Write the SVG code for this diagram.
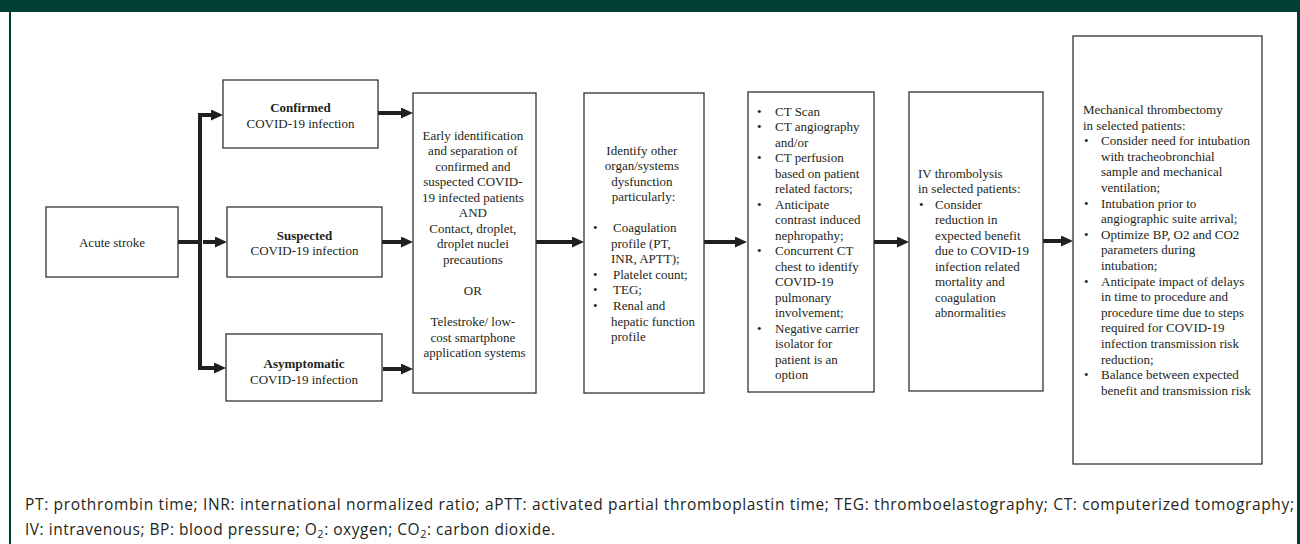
<svg xmlns="http://www.w3.org/2000/svg" width="1300" height="544" viewBox="0 0 1300 544">
<style>
.box{fill:#fff;stroke:#333;stroke-width:1.3}
.t{font-family:"Liberation Serif","Times New Roman",serif;font-size:13px;fill:#231f20}
.c{text-anchor:middle}
.b{font-weight:bold}
.ln{fill:none;stroke:#231f20;stroke-width:4}
.foot{font-family:"Open Sans",Lato,sans-serif;font-size:15.5px;fill:#231f20}
</style>
<defs>
<marker id="ah" markerUnits="userSpaceOnUse" markerWidth="12" markerHeight="11" viewBox="0 0 12 11" refX="6" refY="5.5" orient="auto">
<path d="M0,0 L12,5.5 L0,11 z" fill="#231f20"/>
</marker>
</defs>
<rect x="0" y="0" width="1300" height="12" fill="#003d35"/>
<rect x="9" y="0" width="2" height="544" fill="#003d35"/>
<rect x="1297" y="0" width="3" height="544" fill="#003d35"/>

<g id="connectors">
<path class="ln" d="M178,242 H202"/>
<path class="ln" d="M200,244 V115 H217" marker-end="url(#ah)"/>
<path class="ln" d="M200,240 V368 H220" marker-end="url(#ah)"/>
<path class="ln" d="M203,242 H221" marker-end="url(#ah)"/>
<path class="ln" d="M378,113 H407" marker-end="url(#ah)"/>
<path class="ln" d="M382,242 H407" marker-end="url(#ah)"/>
<path class="ln" d="M383,369 H407" marker-end="url(#ah)"/>
<path class="ln" d="M536,242 H578" marker-end="url(#ah)"/>
<path class="ln" d="M704,242 H741" marker-end="url(#ah)"/>
<path class="ln" d="M874,242 H903" marker-end="url(#ah)"/>
<path class="ln" d="M1043,241 H1067" marker-end="url(#ah)"/>
</g>

<g id="acute">
<rect class="box" x="46" y="207" width="132" height="70"/>
<text class="t c" x="112" y="246.5">Acute stroke</text>
</g>
<g id="confirmed">
<rect class="box" x="223" y="80" width="155" height="68"/>
<text class="t c b" x="300.5" y="112">Confirmed</text>
<text class="t c" x="300.5" y="127.5">COVID-19 infection</text>
</g>
<g id="suspected">
<rect class="box" x="227" y="207" width="155" height="70"/>
<text class="t c b" x="304.5" y="239.5">Suspected</text>
<text class="t c" x="304.5" y="255">COVID-19 infection</text>
</g>
<g id="asymptomatic">
<rect class="box" x="226" y="334" width="156" height="67"/>
<text class="t c b" x="304" y="367.5">Asymptomatic</text>
<text class="t c" x="304" y="383.5">COVID-19 infection</text>
</g>

<g id="early">
<rect class="box" x="413" y="93" width="123" height="300"/>
<text class="t c">
<tspan x="474.5" y="139.5">Early identification</tspan>
<tspan x="474.5" y="155">and separation of</tspan>
<tspan x="474.5" y="170.6">confirmed and</tspan>
<tspan x="474.5" y="186.1">suspected COVID-</tspan>
<tspan x="474.5" y="201.7">19 infected patients</tspan>
<tspan x="474.5" y="217.2">AND</tspan>
<tspan x="474.5" y="232.8">Contact, droplet,</tspan>
<tspan x="474.5" y="248.3">droplet nuclei</tspan>
<tspan x="474.5" y="263.9">precautions</tspan>
<tspan x="474.5" y="295">OR</tspan>
<tspan x="474.5" y="326.1">Telestroke/ low-</tspan>
<tspan x="474.5" y="341.6">cost smartphone</tspan>
<tspan x="474.5" y="357.2">application systems</tspan>
</text>
</g>

<g id="identify">
<rect class="box" x="584" y="93" width="120" height="300"/>
<text class="t c">
<tspan x="643.5" y="154.5">Identify other</tspan>
<tspan x="643.5" y="170">organ/systems</tspan>
<tspan x="643.5" y="185.6">dysfunction</tspan>
<tspan x="643.5" y="201.1">particularly:</tspan>
</text>
<text class="t">
<tspan x="593" y="232.2">•</tspan>
<tspan x="593" y="278.9">•</tspan>
<tspan x="593" y="294.4">•</tspan>
<tspan x="593" y="310">•</tspan>
</text>
<text class="t">
<tspan x="613" y="232.2">Coagulation</tspan>
<tspan x="611" y="247.8">profile (PT,</tspan>
<tspan x="611" y="263.3">INR, APTT);</tspan>
<tspan x="613" y="278.9">Platelet count;</tspan>
<tspan x="613" y="294.4">TEG;</tspan>
<tspan x="613" y="310">Renal and</tspan>
<tspan x="611" y="325.5">hepatic function</tspan>
<tspan x="611" y="341.1">profile</tspan>
</text>
</g>

<g id="ct">
<rect class="box" x="748" y="92" width="126" height="300"/>
<text class="t">
<tspan x="757" y="115.7">•</tspan>
<tspan x="757" y="131.2">•</tspan>
<tspan x="757" y="162.2">•</tspan>
<tspan x="757" y="208.7">•</tspan>
<tspan x="757" y="255.2">•</tspan>
<tspan x="757" y="332.7">•</tspan>
</text>
<text class="t">
<tspan x="775" y="115.7">CT Scan</tspan>
<tspan x="775" y="131.2">CT angiography</tspan>
<tspan x="775" y="146.7">and/or</tspan>
<tspan x="775" y="162.2">CT perfusion</tspan>
<tspan x="775" y="177.7">based on patient</tspan>
<tspan x="775" y="193.2">related factors;</tspan>
<tspan x="775" y="208.7">Anticipate</tspan>
<tspan x="775" y="224.2">contrast induced</tspan>
<tspan x="775" y="239.7">nephropathy;</tspan>
<tspan x="775" y="255.2">Concurrent CT</tspan>
<tspan x="775" y="270.7">chest to identify</tspan>
<tspan x="775" y="286.2">COVID-19</tspan>
<tspan x="775" y="301.7">pulmonary</tspan>
<tspan x="775" y="317.2">involvement;</tspan>
<tspan x="775" y="332.7">Negative carrier</tspan>
<tspan x="775" y="348.2">isolator for</tspan>
<tspan x="775" y="363.7">patient is an</tspan>
<tspan x="775" y="379.2">option</tspan>
</text>
</g>

<g id="iv">
<rect class="box" x="909" y="92" width="134" height="299"/>
<text class="t">
<tspan x="918" y="177.5">IV thrombolysis</tspan>
<tspan x="918" y="193">in selected patients:</tspan>
<tspan x="919" y="208.5">•</tspan>
</text>
<text class="t">
<tspan x="935" y="208.5">Consider</tspan>
<tspan x="935" y="224">reduction in</tspan>
<tspan x="935" y="239.5">expected benefit</tspan>
<tspan x="935" y="255">due to COVID-19</tspan>
<tspan x="935" y="270.5">infection related</tspan>
<tspan x="935" y="286">mortality and</tspan>
<tspan x="935" y="301.5">coagulation</tspan>
<tspan x="935" y="317">abnormalities</tspan>
</text>
</g>

<g id="mech">
<rect class="box" x="1073" y="36" width="189" height="428"/>
<text class="t">
<tspan x="1083" y="114">Mechanical thrombectomy</tspan>
<tspan x="1083" y="129.6">in selected patients:</tspan>
</text>
<text class="t">
<tspan x="1084" y="145.2">•</tspan>
<tspan x="1084" y="207.6">•</tspan>
<tspan x="1084" y="238.8">•</tspan>
<tspan x="1084" y="285.6">•</tspan>
<tspan x="1084" y="379.2">•</tspan>
</text>
<text class="t">
<tspan x="1101" y="145.2">Consider need for intubation</tspan>
<tspan x="1101" y="160.8">with tracheobronchial</tspan>
<tspan x="1101" y="176.4">sample and mechanical</tspan>
<tspan x="1101" y="192">ventilation;</tspan>
<tspan x="1101" y="207.6">Intubation prior to</tspan>
<tspan x="1101" y="223.2">angiographic suite arrival;</tspan>
<tspan x="1101" y="238.8">Optimize BP, O2 and CO2</tspan>
<tspan x="1101" y="254.4">parameters during</tspan>
<tspan x="1101" y="270">intubation;</tspan>
<tspan x="1101" y="285.6">Anticipate impact of delays</tspan>
<tspan x="1101" y="301.2">in time to procedure and</tspan>
<tspan x="1101" y="316.8">procedure time due to steps</tspan>
<tspan x="1101" y="332.4">required for COVID-19</tspan>
<tspan x="1101" y="348">infection transmission risk</tspan>
<tspan x="1101" y="363.6">reduction;</tspan>
<tspan x="1101" y="379.2">Balance between expected</tspan>
<tspan x="1101" y="394.8">benefit and transmission risk</tspan>
</text>
</g>

<g id="footnote">
<text class="foot" x="25" y="510" textLength="1269" lengthAdjust="spacing">PT: prothrombin time; INR: international normalized ratio; aPTT: activated partial thromboplastin time; TEG: thromboelastography; CT: computerized tomography;</text>
<text class="foot" x="25" y="535" textLength="530" lengthAdjust="spacing">IV: intravenous; BP: blood pressure; O<tspan font-size="11" dy="3">2</tspan><tspan dy="-3">: oxygen; CO</tspan><tspan font-size="11" dy="3">2</tspan><tspan dy="-3">: carbon dioxide.</tspan></text>
</g>
</svg>
